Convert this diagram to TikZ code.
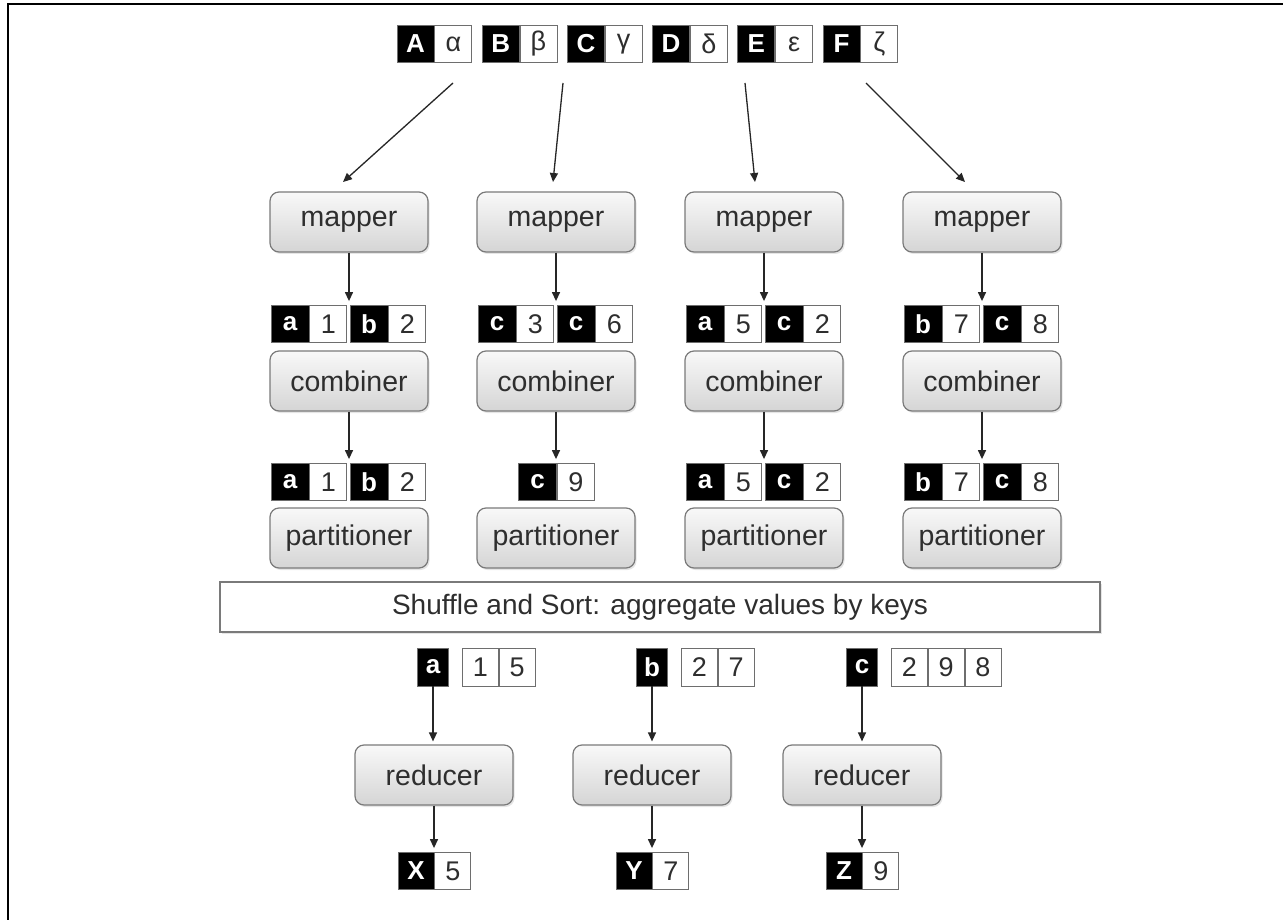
\documentclass[tikz,border=0pt]{standalone}
\usepackage{fontspec}
\setmainfont{Liberation Sans}
\usetikzlibrary{arrows.meta,shadows}
\definecolor{boxline}{HTML}{7A7A7A}
\definecolor{cellline}{HTML}{6E6E6E}
\definecolor{txt}{HTML}{2E2E2E}
\newcommand\kvpair[6][]{%
  \node[kcell,#1] (#2k) at (#3,#4) {#5};
  \node[vcell,#1,anchor=west] (#2v) at (#2k.east) {#6};}
\begin{document}
\begin{tikzpicture}[x=1pt,y=-1pt,
  proc/.style={draw=boxline, line width=1.2pt, rounded corners=9pt,
    top color=gray!5, bottom color=gray!33, minimum width=158pt,
    minimum height=60pt, inner sep=0pt, text=txt,
    font=\fontsize{28.5}{31}\selectfont,
    drop shadow={opacity=0.2, shadow xshift=1.5pt, shadow yshift=-2pt}},
  kcell/.style={fill=black, draw=cellline, line width=0.8pt,
    minimum width=38pt, minimum height=37pt, inner sep=0pt, text=white,
    font=\fontsize{26}{28}\selectfont\bfseries},
  vcell/.style={fill=white, draw=cellline, line width=0.8pt,
    minimum width=37pt, minimum height=37pt, inner sep=0pt, text=txt,
    font=\fontsize{27}{29}\selectfont},
  arr/.style={draw=black!85, line width=1.3pt,
    -{Triangle[length=9pt,width=8pt]}}
]
\useasboundingbox (0,0) rectangle (1283,920);
\fill[white] (0,0) rectangle (1283,920);
% frame
\draw[line width=2.2pt] (8,920) -- (8,4) -- (1283,4);

% top input pairs
\foreach \i/\k/\v in {0/A/α,1/B/β,2/C/γ,3/D/δ,4/E/ε,5/F/ζ}{
  \kvpair[minimum width=37pt]{in\i}{397+18.5+85.2*\i}{44}{\k}{\v}
}

% mappers
\node[proc] (m1) at (349,222) {mapper};
\node[proc] (m2) at (556,222) {mapper};
\node[proc] (m3) at (764,222) {mapper};
\node[proc] (m4) at (982,222) {mapper};

% top arrows
\coordinate (t1s) at (453,83); \coordinate (t1e) at (343,182);
\coordinate (t2s) at (563,83); \coordinate (t2e) at (553,182);
\coordinate (t3s) at (745,83); \coordinate (t3e) at (755,182);
\coordinate (t4s) at (866,83); \coordinate (t4e) at (965,182);
\draw[arr] (t1s) -- (t1e);
\draw[arr] (t2s) -- (t2e);
\draw[arr] (t3s) -- (t3e);
\draw[arr] (t4s) -- (t4e);

% mapper output pairs
\kvpair{ma1}{349-59}{324}{a}{1} \kvpair{mb1}{349+20}{324}{b}{2}
\kvpair{ma2}{556-59}{324}{c}{3} \kvpair{mb2}{556+20}{324}{c}{6}
\kvpair{ma3}{764-59}{324}{a}{5} \kvpair{mb3}{764+20}{324}{c}{2}
\kvpair{ma4}{982-59}{324}{b}{7} \kvpair{mb4}{982+20}{324}{c}{8}

% combiners
\node[proc] (c1) at (349,381) {combiner};
\node[proc] (c2) at (556,381) {combiner};
\node[proc] (c3) at (764,381) {combiner};
\node[proc] (c4) at (982,381) {combiner};

% combiner output pairs
\kvpair{ca1}{349-59}{482}{a}{1} \kvpair{cb1}{349+20}{482}{b}{2}
\kvpair{ca2}{556-18.5}{482}{c}{9}
\kvpair{ca3}{764-59}{482}{a}{5} \kvpair{cb3}{764+20}{482}{c}{2}
\kvpair{ca4}{982-59}{482}{b}{7} \kvpair{cb4}{982+20}{482}{c}{8}

% partitioners
\node[proc] (p1) at (349,538) {partitioner};
\node[proc] (p2) at (556,538) {partitioner};
\node[proc] (p3) at (764,538) {partitioner};
\node[proc] (p4) at (982,538) {partitioner};

% mapper -> pairs, combiner -> pairs
\foreach \j in {1,2,3,4}{
  \draw[arr, shorten >=4pt] (m\j.south) -- (m\j.south |- ma\j k.north);
  \draw[arr, shorten >=4pt] (c\j.south) -- (c\j.south |- ca\j k.north);
}

% shuffle
\node[draw=boxline, line width=1.2pt, fill=white, minimum width=880pt,
  minimum height=50pt, text=txt, font=\fontsize{28}{30}\selectfont,
  drop shadow={opacity=0.2, shadow xshift=1.5pt, shadow yshift=-2pt}]
  (sh) at (660,607) {Shuffle and Sort: aggregate values by keys};

% reduce inputs
\tikzset{rk/.style={kcell, minimum width=31pt, minimum height=38pt},
  rv/.style={vcell, minimum width=36pt, minimum height=38pt, anchor=west}}
\node[rk] (ra) at (433,667) {a};
\node[rv] (ra1) at ([xshift=13pt]ra.east) {1};
\node[rv] (ra2) at (ra1.east) {5};
\node[rk] (rb) at (652,667) {b};
\node[rv] (rb1) at ([xshift=13pt]rb.east) {2};
\node[rv] (rb2) at (rb1.east) {7};
\node[rk] (rc) at (862,667) {c};
\node[rv] (rc1) at ([xshift=13pt]rc.east) {2};
\node[rv] (rc2) at (rc1.east) {9};
\node[rv] (rc3) at (rc2.east) {8};

% reducers
\node[proc] (r1) at (434,775) {reducer};
\node[proc] (r2) at (652,775) {reducer};
\node[proc] (r3) at (862,775) {reducer};

\draw[arr, shorten >=3pt] (ra.south) -- (ra.south |- r1.north);
\draw[arr, shorten >=3pt] (rb.south) -- (rb.south |- r2.north);
\draw[arr, shorten >=3pt] (rc.south) -- (rc.south |- r3.north);

% outputs
\kvpair[minimum width=36pt]{ox}{434-18}{871}{X}{5}
\kvpair[minimum width=36pt]{oy}{652-18}{871}{Y}{7}
\kvpair[minimum width=36pt]{oz}{862-18}{871}{Z}{9}

\draw[arr, shorten >=4pt] (r1.south) -- (r1.south |- oxk.north);
\draw[arr, shorten >=4pt] (r2.south) -- (r2.south |- oyk.north);
\draw[arr, shorten >=4pt] (r3.south) -- (r3.south |- ozk.north);
\end{tikzpicture}
\end{document}
